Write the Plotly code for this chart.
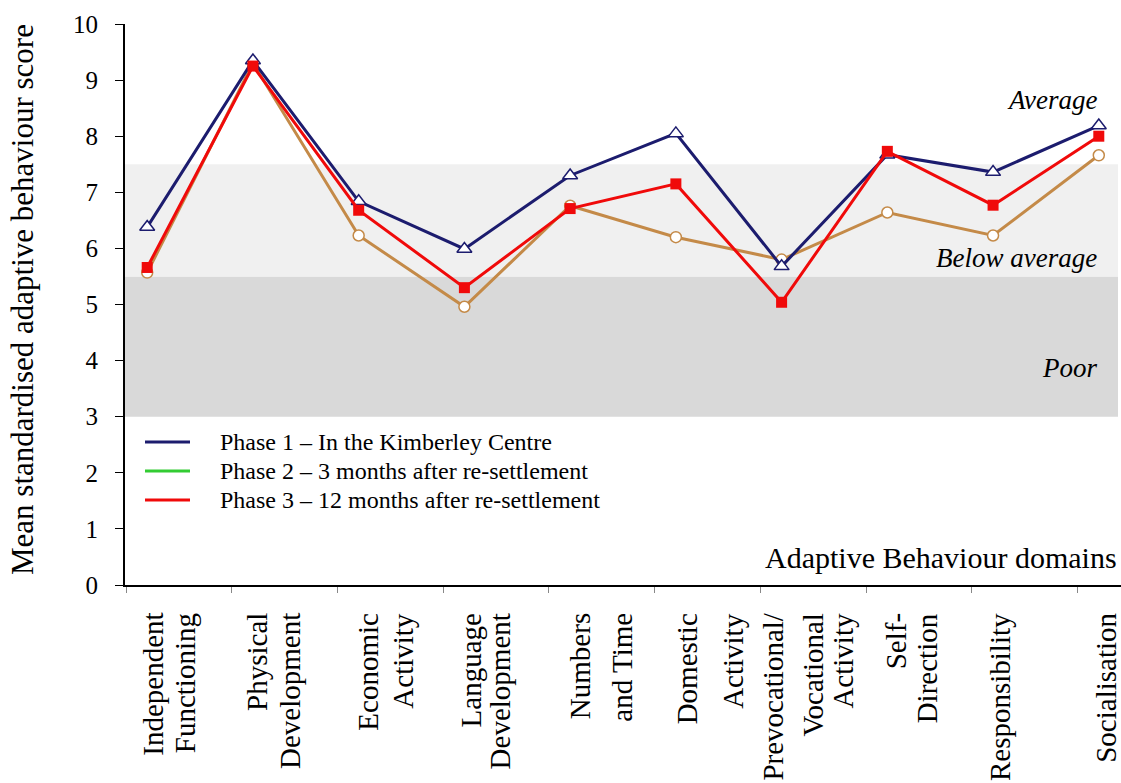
import plotly.graph_objects as go

categories = ["Independent Functioning", "Physical Development", "Economic Activity",
              "Language Development", "Numbers and Time", "Domestic Activity",
              "Prevocational/ Vocational Activity", "Self-Direction", "Responsibility",
              "Socialisation"]
label_lines = [["Independent", "Functioning"], ["Physical", "Development"],
               ["Economic", "Activity"], ["Language", "Development"],
               ["Numbers", "and Time"], ["Domestic", "Activity"],
               ["Prevocational/", "Vocational", "Activity"], ["Self-", "Direction"],
               ["Responsibility"], ["Socialisation"]]
phase1 = [6.38, 9.35, 6.84, 5.99, 7.30, 8.05, 5.68, 7.67, 7.36, 8.19]
phase2 = [5.57, 9.30, 6.23, 4.96, 6.76, 6.20, 5.80, 6.64, 6.23, 7.66]
phase3 = [5.66, 9.25, 6.68, 5.30, 6.71, 7.15, 5.04, 7.73, 6.77, 8.00]
legend_names = ["Phase 1 \u2013 In the Kimberley Centre",
                "Phase 2 \u2013 3 months after re-settlement",
                "Phase 3 \u2013 12 months after re-settlement"]
y_ticks = [0, 1, 2, 3, 4, 5, 6, 7, 8, 9, 10]
bands = [(3.0, 5.5, "#d9d9d9"), (5.5, 7.5, "#f0f0f0")]

W, H = 1121, 783
L, R, T, B = 125, 0, 24, 198
PW = W - L - R
PH = H - T - B
FONT = "Liberation Serif"
NAVY = "#1c1c6e"
RED = "#f00a0a"
TAN = "#c48a48"
GREEN = "#33cc33"

xs = list(range(len(categories)))


def px(p):
    return (p - L) / PW


def py(p):
    return (H - B - p) / PH


fig = go.Figure()

fig.add_trace(go.Scatter(x=xs, y=phase2, mode="lines+markers", name=legend_names[1],
                         showlegend=False, line=dict(color=TAN, width=3),
                         marker=dict(symbol="circle", size=11, color="white",
                                     line=dict(color=TAN, width=1.5))))
fig.add_trace(go.Scatter(x=xs, y=phase1, mode="lines+markers", name=legend_names[0],
                         showlegend=False, line=dict(color=NAVY, width=3),
                         marker=dict(symbol="triangle-up", size=13, color="white",
                                     line=dict(color=NAVY, width=1.5))))
fig.add_trace(go.Scatter(x=xs, y=phase3, mode="lines+markers", name=legend_names[2],
                         showlegend=False, line=dict(color=RED, width=3),
                         marker=dict(symbol="square", size=11, color=RED)))

for y0, y1, col in bands:
    fig.add_shape(type="rect", xref="paper", yref="y", x0=0, x1=px(1118), y0=y0, y1=y1,
                  fillcolor=col, line=dict(width=0), layer="below")

anns = []
# legend (drawn manually to match the original spacing)
for k, (name, col) in enumerate(zip(legend_names, [NAVY, GREEN, RED])):
    yy = py(442 + 29 * k)
    fig.add_shape(type="line", xref="paper", yref="paper", x0=px(145), x1=px(190),
                  y0=yy, y1=yy, line=dict(color=col, width=3))
    anns.append(dict(x=px(218), y=yy, xref="paper", yref="paper", text=name,
                     showarrow=False, xanchor="left", yanchor="middle",
                     font=dict(family=FONT, size=24, color="black")))

# category labels (rotated, one annotation per line of text)
line_dx = [[5, 38], [4, 37], [9, 44], [7, 36], [10, 51], [11, 57], [-9, 31, 61],
           [9, 40], [7], [7]]
step = PW / 9.42
for i, lines in enumerate(label_lines):
    for j, ln in enumerate(lines):
        anns.append(dict(x=i + line_dx[i][j] / step, xref="x", y=py(611), yref="paper",
                         text=ln, showarrow=False, textangle=-90, xanchor="center",
                         yanchor="top", font=dict(family=FONT, size=29, color="black")))

anns.append(dict(x=px(22), y=py(300), xref="paper", yref="paper",
                 text="Mean standardised adaptive behaviour score", showarrow=False,
                 textangle=-90, xanchor="center", yanchor="middle",
                 font=dict(family=FONT, size=31, color="black")))
for txt, ypx in [("Average", 100), ("Below average", 258), ("Poor", 368)]:
    anns.append(dict(x=px(1099), y=py(ypx), xref="paper", yref="paper", text=f"<i>{txt}</i>",
                     showarrow=False, xanchor="right", yanchor="middle",
                     font=dict(family=FONT, size=27, color="black")))
anns.append(dict(x=px(1119), y=py(557), xref="paper", yref="paper",
                 text="Adaptive Behaviour domains", showarrow=False, xanchor="right",
                 yanchor="middle", font=dict(family=FONT, size=30, color="black")))

fig.update_layout(
    width=W, height=H,
    margin=dict(l=L, r=R, t=T, b=B, pad=0),
    paper_bgcolor="white", plot_bgcolor="white",
    showlegend=False,
    annotations=anns,
    xaxis=dict(range=[-0.21, 9.21], showgrid=False, zeroline=False,
               showline=True, linecolor="black", linewidth=2,
               tickvals=[x - 0.2 for x in xs], ticktext=["" for _ in xs],
               ticks="outside", ticklen=6, tickcolor="#888888", tickwidth=1),
    yaxis=dict(range=[0, 10], showgrid=False, zeroline=False,
               showline=True, linecolor="black", linewidth=2,
               tickvals=y_ticks, ticks="outside", ticklen=8, tickcolor="black",
               ticklabelstandoff=12,
               tickfont=dict(family=FONT, size=25, color="black")),
)

fig.write_html("out.html", config={"displayModeBar": False},
               post_script="document.body.style.margin='0px';")
